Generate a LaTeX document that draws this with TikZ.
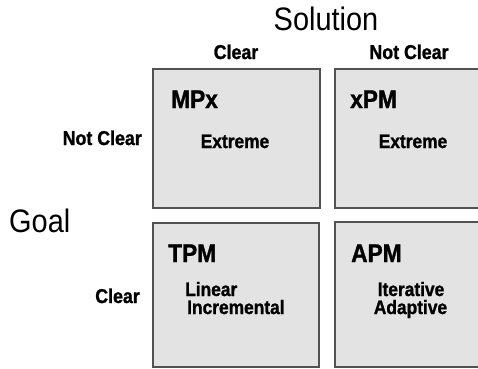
\documentclass[tikz,border=0pt]{standalone}
\usepackage{fontspec}
\setmainfont{Liberation Sans}[FakeStretch=0.89,BoldFeatures={FakeBold=1.2}]
\begin{document}
\begin{tikzpicture}[x=1pt,y=-1pt,
  quad/.style={draw=black!68,line width=1.3pt,fill=black!11},
  big/.style={inner sep=0pt,font=\fontsize{32.5}{36}\selectfont},
  hdr/.style={inner sep=0pt,font=\bfseries\fontsize{20}{24}\selectfont},
  ttl/.style={inner sep=0pt,font=\bfseries\fontsize{25.5}{30}\selectfont},
  txt/.style={inner sep=0pt,font=\bfseries\fontsize{19.5}{24}\selectfont}]
\useasboundingbox (0,0) rectangle (478,368);
\clip (0,0) rectangle (478,368);
% quadrants
\draw[quad] (153,69) rectangle (320,208);
\draw[quad] (335,69) rectangle (495,208);
\draw[quad] (153,223) rectangle (319,367);
\draw[quad] (335,222) rectangle (495,367);
% axis labels
\node[big,anchor=base] (sol) at (326,30.5) {Solution};
\node[big,anchor=base west] (goal) at (9,232) {Goal};
\node[hdr,anchor=base] (c1) at (236,59) {Clear};
\node[hdr,anchor=base] (c2) at (409,59) {Not Clear};
\node[hdr,anchor=base east] (r1) at (142,145) {Not Clear};
\node[hdr,anchor=base east] (r2) at (140,303) {Clear};
% quadrant contents
\node[ttl,anchor=base west] (mpx) at (171,108) {MPx};
\node[txt,anchor=base] (e1) at (235,148) {Extreme};
\node[ttl,anchor=base west] (xpm) at (350,108) {xPM};
\node[txt,anchor=base] (e2) at (413,148) {Extreme};
\node[ttl,anchor=base west] (tpm) at (168,262) {TPM};
\node[txt,anchor=base west] (lin) at (185,296) {Linear};
\node[txt,anchor=base west] (inc) at (187,314) {Incremental};
\node[ttl,anchor=base west] (apm) at (351,262) {APM};
\node[txt,anchor=base] (it) at (411,296) {Iterative};
\node[txt,anchor=base] (ad) at (410.5,314) {Adaptive};
\end{tikzpicture}
\end{document}
